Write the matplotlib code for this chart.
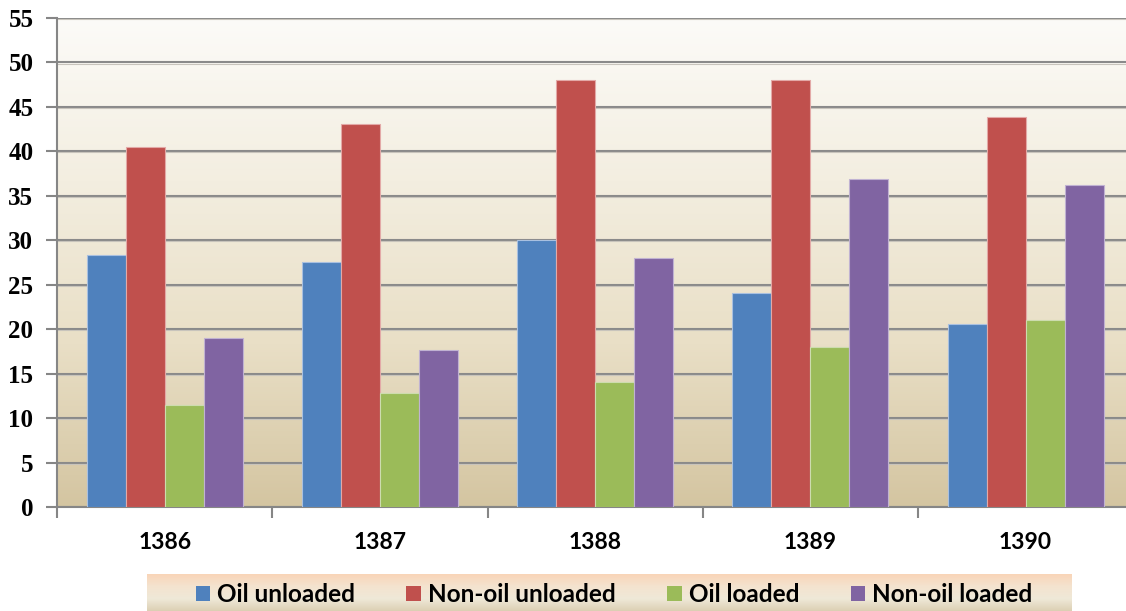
import numpy as np
import matplotlib
matplotlib.use("Agg")
import matplotlib.pyplot as plt
from matplotlib.colors import LinearSegmentedColormap
from matplotlib.patches import Patch

years = ["1386", "1387", "1388", "1389", "1390"]
series_names = ["Oil unloaded", "Non-oil unloaded", "Oil loaded", "Non-oil loaded"]
oil_unloaded = [28.3, 27.6, 30.0, 24.1, 20.6]
non_oil_unloaded = [40.5, 43.1, 48.0, 48.0, 43.9]
oil_loaded = [11.5, 12.8, 14.1, 18.0, 21.0]
non_oil_loaded = [19.0, 17.7, 28.0, 36.9, 36.2]
y_ticks = [0, 5, 10, 15, 20, 25, 30, 35, 40, 45, 50, 55]

series = [oil_unloaded, non_oil_unloaded, oil_loaded, non_oil_loaded]
colors = ["#4f81bd", "#c0504d", "#9bbb59", "#8064a2"]
edges = ["#a9c0e0", "#e3a9a7", "#cddcae", "#c0b2d2"]

W, H = 1126, 611
fig = plt.figure(figsize=(W / 100, H / 100), dpi=100)
fig.patch.set_facecolor("white")

left_px, right_px, top_px, bottom_px = 57, 1126, 18, 507
ax = fig.add_axes([left_px / W, (H - bottom_px) / H, (right_px - left_px) / W, (bottom_px - top_px) / H])

cat_w = 215.25
xmax = -0.5 + (right_px - left_px) / cat_w

# background gradient
bg = LinearSegmentedColormap.from_list("bg", ["#d4c5a1", "#e9dfc6", "#f3eee0", "#fcfbf8"])
grad = np.linspace(0, 1, 256).reshape(-1, 1)
ax.imshow(grad, cmap=bg, aspect="auto", extent=(-0.5, xmax, 0, 55), origin="lower", zorder=0)

x = np.arange(len(years))
bw = 39.0 / cat_w
for i, (vals, c, e) in enumerate(zip(series, colors, edges)):
    ax.bar(x + (i - 1.5) * bw, vals, width=bw, color=c, edgecolor=e, linewidth=0.8,
           label=series_names[i], zorder=3)

ax.set_yticks(y_ticks)
ax.set_yticklabels([str(t) for t in y_ticks], fontfamily="Liberation Serif", fontweight="bold", fontsize=18)
ax.yaxis.grid(True, color="#8a8a8a", linewidth=1.5, zorder=1)
ax.set_axisbelow(True)
for t in y_ticks[1:]:
    ax.axhline(t - 0.12, color="#c8c4bc", linewidth=0.8, zorder=1)

ax.set_xticks(x)
ax.set_xticklabels(years, fontfamily="Lato", fontweight="bold", fontsize=16.5)
ax.set_xticks(np.arange(-0.5, 4.0, 1.0), minor=True)
ax.tick_params(axis="x", which="major", length=0, pad=18)
ax.tick_params(axis="x", which="minor", length=8, width=1.5, color="#868686", direction="out")
ax.tick_params(axis="y", length=8, width=1.5, color="#868686", direction="out", pad=9)
ax.set_xlim(-0.5, xmax)
ax.set_ylim(0, 55)

for s in ["top", "right"]:
    ax.spines[s].set_visible(False)
for s in ["left", "bottom"]:
    ax.spines[s].set_color("#868686")
    ax.spines[s].set_linewidth(1.5)

# legend box
lx0, lx1, ly0, ly1 = 147, 1072, 574, 611
lax = fig.add_axes([lx0 / W, (H - ly1) / H, (lx1 - lx0) / W, (ly1 - ly0) / H])
lg = LinearSegmentedColormap.from_list("lg", ["#dccfb3", "#efe9d8", "#f4e3cf", "#f9d5b8"])
lax.imshow(grad, cmap=lg, aspect="auto", extent=(0, 1, 0, 1), origin="lower")
lax.set_xlim(0, 1)
lax.set_ylim(0, 1)
lax.axis("off")
handles = [Patch(facecolor=c, edgecolor="none") for c in colors]
lax.legend(handles, series_names, loc="center", ncol=4, frameon=False,
           prop={"family": "Lato", "weight": "bold", "size": 17.5},
           handlelength=0.6, handleheight=0.6, handletextpad=0.3, columnspacing=2.1,
           bbox_to_anchor=(0.505, 0.45))

fig.savefig("out.png", dpi=100)
